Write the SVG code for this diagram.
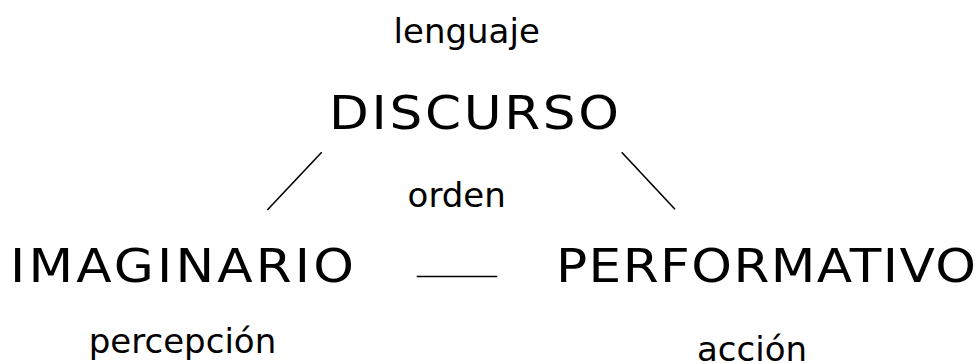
<svg xmlns="http://www.w3.org/2000/svg" width="980" height="364" viewBox="0 0 980 364">
<style>
text{font-family:"DejaVu Sans",Verdana,sans-serif;fill:#000}
.big{font-size:47px}
.small{font-size:34px;text-anchor:middle}
.ln{stroke:#000;stroke-width:1.6;fill:none}
</style>
<rect width="980" height="364" fill="#fff"/>
<g id="discurso">
<text class="small" x="466.7" y="42.5">lenguaje</text>
<text class="big" transform="translate(329,129) scale(1.1,1)" x="0" y="0" textLength="263.6" lengthAdjust="spacing">DISCURSO</text>
</g>
<g id="orden">
<text class="small" x="456.7" y="206.7">orden</text>
</g>
<g id="imaginario">
<text class="big" transform="translate(10,282) scale(1.1,1)" x="0" y="0" textLength="312.7" lengthAdjust="spacing">IMAGINARIO</text>
<text class="small" x="182.5" y="353.3">percepción</text>
</g>
<g id="performativo">
<text class="big" transform="translate(556,282) scale(1.1,1)" x="0" y="0" textLength="381.8" lengthAdjust="spacing">PERFORMATIVO</text>
<text class="small" x="752" y="361">acción</text>
</g>
<g id="connectors">
<line class="ln" x1="321.7" y1="152.3" x2="267.3" y2="210"/>
<line class="ln" x1="621.7" y1="152.3" x2="675" y2="209.3"/>
<line class="ln" x1="416.7" y1="276.5" x2="497.3" y2="276.5"/>
</g>
</svg>
